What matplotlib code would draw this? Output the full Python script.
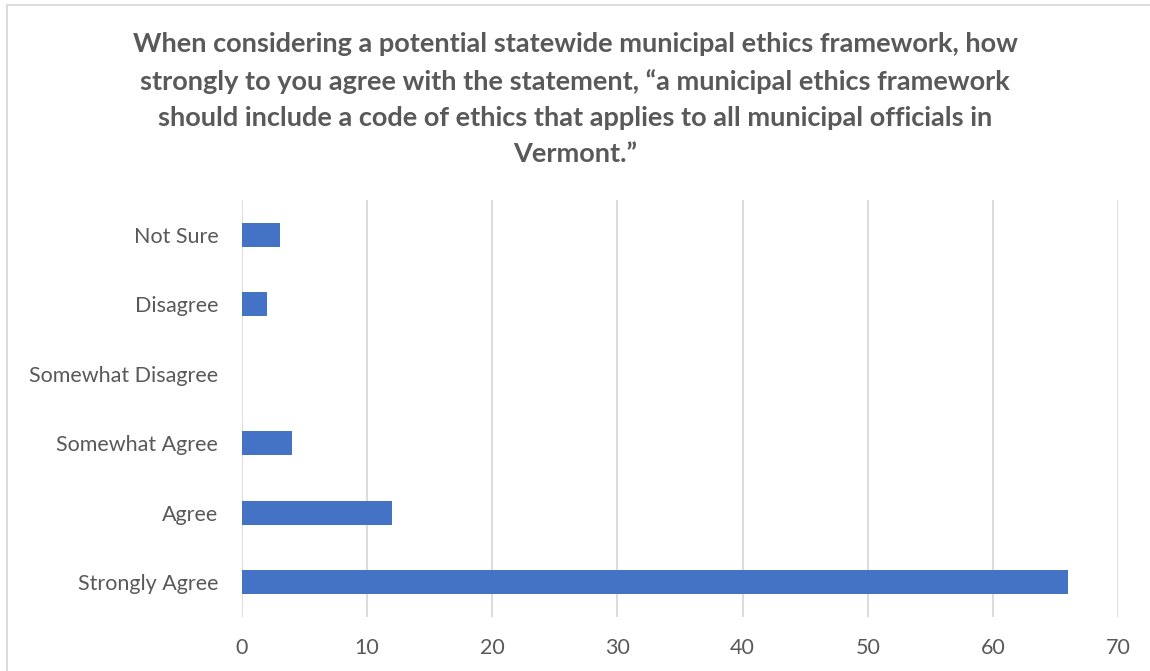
import matplotlib.pyplot as plt
from matplotlib.patches import Rectangle

categories = ['Strongly Agree', 'Agree', 'Somewhat Agree', 'Somewhat Disagree', 'Disagree', 'Not Sure']
counts = [66, 12, 4, 0, 2, 3]
x_ticks = [0, 10, 20, 30, 40, 50, 60, 70]
title = ('When considering a potential statewide municipal ethics framework, how\n'
         'strongly to you agree with the statement, \u201ca municipal ethics framework\n'
         'should include a code of ethics that applies to all municipal officials in\n'
         'Vermont.\u201d')

plt.rcParams['font.family'] = ['Lato', 'DejaVu Sans']
text_color = '#595959'

fig = plt.figure(figsize=(11.5, 6.71), dpi=100)
ax = fig.add_axes([0.2104, 0.0805, 0.7618, 0.6215])

ax.barh(categories, counts, height=0.35, color='#4472C4', zorder=3)
ax.set_xlim(0, 70)
ax.set_ylim(-0.5, len(categories) - 0.5)
ax.set_xticks(x_ticks)
ax.grid(axis='x', color='#d9d9d9', linewidth=1.3, zorder=0)
for s in ax.spines.values():
    s.set_visible(False)
ax.tick_params(axis='both', length=0, labelsize=15.5, colors=text_color)
ax.tick_params(axis='x', pad=15)
ax.tick_params(axis='y', pad=17)

fig.text(0.5, 0.953, title, ha='center', va='top', fontsize=19.5, fontweight='bold',
         color=text_color, linespacing=1.62)

# 外框
fig.add_artist(Rectangle((0.006, -0.01), 1.1, 1.003, transform=fig.transFigure,
                         fill=False, edgecolor='#d9d9d9', linewidth=1.3))

plt.savefig('out.png', dpi=100)
